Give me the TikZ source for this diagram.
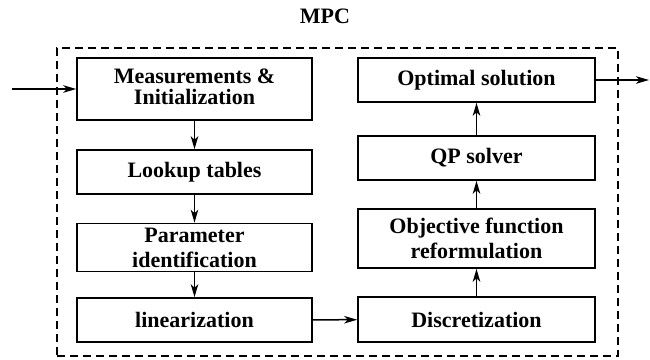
\documentclass[tikz,border=0pt]{standalone}
\usepackage{fontspec}
\setmainfont{Liberation Serif}
\usetikzlibrary{arrows.meta}
\begin{document}
\begin{tikzpicture}[x=1pt,y=-1pt,
  blk/.style={draw,line width=1.6pt,minimum width=235pt,align=center,
    font=\bfseries\fontsize{22}{25}\selectfont,inner sep=0pt},
  arr/.style={line width=1.5pt,-{Stealth[length=13pt,width=7.5pt,inset=3.5pt]}},
  frame/.style={draw,line width=1.4pt,dash pattern=on 8pt off 5pt}]
\useasboundingbox (0,0) rectangle (650,359);
\node[font=\bfseries\fontsize{22}{25}\selectfont] (mpc) at (325,16) {MPC};
\node[frame,minimum width=561pt,minimum height=308pt] (box) at (337.5,202) {};
\node[blk,minimum height=62pt,font=\bfseries\fontsize{22}{21}\selectfont,text depth=5.5pt] (m) at (194.5,89) {Measurements \&\\Initialization};
\node[blk,minimum height=44pt] (l) at (194.5,172) {Lookup tables};
\node[blk,minimum height=48pt] (p) at (194.5,247.5) {Parameter\\identification};
\node[blk,minimum height=44pt] (lin) at (194.5,320) {linearization};
\node[blk,minimum width=237pt,minimum height=44pt] (opt) at (476.5,80) {Optimal solution};
\node[blk,minimum width=237pt,minimum height=44pt] (qp) at (476.5,158) {QP solver};
\node[blk,minimum width=237pt,minimum height=59pt] (obj) at (476.5,238.5) {Objective function\\reformulation};
\node[blk,minimum width=237pt,minimum height=45pt] (dis) at (476.5,319.5) {Discretization};
\coordinate (in) at (12,89);
\coordinate (out) at (649,80);
\draw[arr] (in) -- (m.west);
\draw[arr] (m) -- (l);
\draw[arr] (l) -- (p);
\draw[arr] (p) -- (lin);
\draw[arr] (lin) -- (dis);
\draw[arr] (dis) -- (obj);
\draw[arr] (obj) -- (qp);
\draw[arr] (qp) -- (opt);
\draw[arr] (opt) -- (out);
\end{tikzpicture}
\end{document}
